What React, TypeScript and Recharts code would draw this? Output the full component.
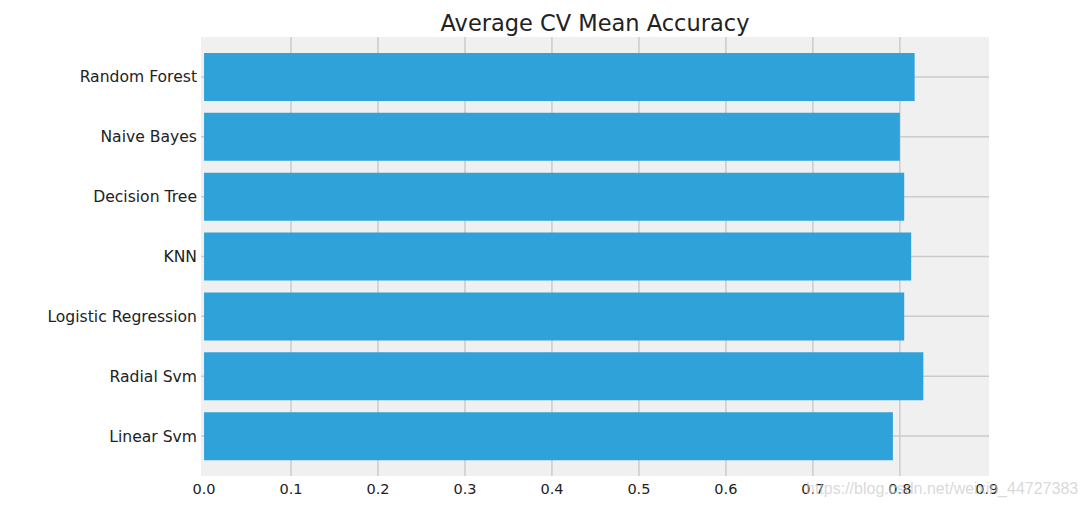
import React from "react";
import { BarChart, Bar, XAxis, YAxis, CartesianGrid } from "recharts";

// model names, top to bottom
const models = [
  "Random Forest",
  "Naive Bayes",
  "Decision Tree",
  "KNN",
  "Logistic Regression",
  "Radial Svm",
  "Linear Svm",
];

// average CV mean accuracy per model
const accuracy = [0.817, 0.8, 0.805, 0.813, 0.805, 0.827, 0.792];

const xTicks = [0, 0.1, 0.2, 0.3, 0.4, 0.5, 0.6, 0.7, 0.8, 0.9];
// vertical grid lines drawn only at the inner ticks
const gridTicks = [0.1, 0.2, 0.3, 0.4, 0.5, 0.6, 0.7, 0.8];

const chartData = models.map((name, i) => ({ name, accuracy: accuracy[i] }));

const font = "'DejaVu Sans', sans-serif";

const callScale = (axis: any, v: any) => {
  const s = axis?.scale;
  if (!s) return NaN;
  if (typeof s === "function") return s(v);
  if (typeof s.map === "function") return s.map(v);
  return NaN;
};

const App: React.FC = () => {
  return (
    <div
      style={{
        position: "absolute",
        left: 0,
        top: 0,
        width: 1087,
        height: 512,
        background: "#fff",
        fontFamily: font,
      }}
    >
      <div
        style={{
          position: "absolute",
          left: 201,
          width: 788,
          top: 10,
          textAlign: "center",
          fontSize: 22.5,
          lineHeight: "26px",
          color: "#222",
        }}
      >
        Average CV Mean Accuracy
      </div>
      <BarChart
        width={1087}
        height={512}
        data={chartData}
        layout="vertical"
        margin={{ top: 37, right: 98, bottom: 0, left: 0 }}
        barCategoryGap="10%"
      >
        <CartesianGrid
          fill="#f0f0f0"
          stroke="#cbcbcb"
          strokeWidth={1.5}
          verticalCoordinatesGenerator={({ xAxis }: any) => {
            try {
              const pts = gridTicks.map((t) => callScale(xAxis, t));
              return pts.every((p) => Number.isFinite(p)) ? pts : [];
            } catch (e) {
              return [];
            }
          }}
          horizontalCoordinatesGenerator={({ yAxis }: any) => {
            try {
              const bw =
                typeof yAxis?.scale?.bandwidth === "function"
                  ? yAxis.scale.bandwidth()
                  : yAxis?.bandSize ?? 0;
              const pts = models.map((m) => callScale(yAxis, m) + bw / 2);
              return pts.every((p) => Number.isFinite(p)) ? pts : [];
            } catch (e) {
              return [];
            }
          }}
        />
        <XAxis
          type="number"
          domain={[-0.0035, 0.9025]}
          allowDataOverflow
          ticks={xTicks}
          tickFormatter={(v: number) => v.toFixed(1)}
          axisLine={false}
          tickLine={false}
          tickSize={0}
          tickMargin={8}
          height={36}
          tick={{ fontSize: 14.5, fill: "#222", fontFamily: font }}
        />
        <YAxis
          type="category"
          dataKey="name"
          width={201}
          axisLine={false}
          tickLine={false}
          tickSize={0}
          tickMargin={4}
          padding={{ top: 10, bottom: 10 }}
          tick={{ fontSize: 15.6, fill: "#222", fontFamily: font }}
        />
        <Bar dataKey="accuracy" fill="#30a2da" isAnimationActive={false} />
      </BarChart>
      <div
        style={{
          position: "absolute",
          left: 806,
          top: 480,
          fontFamily: "'Liberation Sans', Arial, sans-serif",
          fontSize: 16,
          color: "rgba(200,200,200,0.7)",
          whiteSpace: "nowrap",
        }}
      >
        https://blog.csdn.net/weixin_44727383
      </div>
    </div>
  );
};

export default App;
